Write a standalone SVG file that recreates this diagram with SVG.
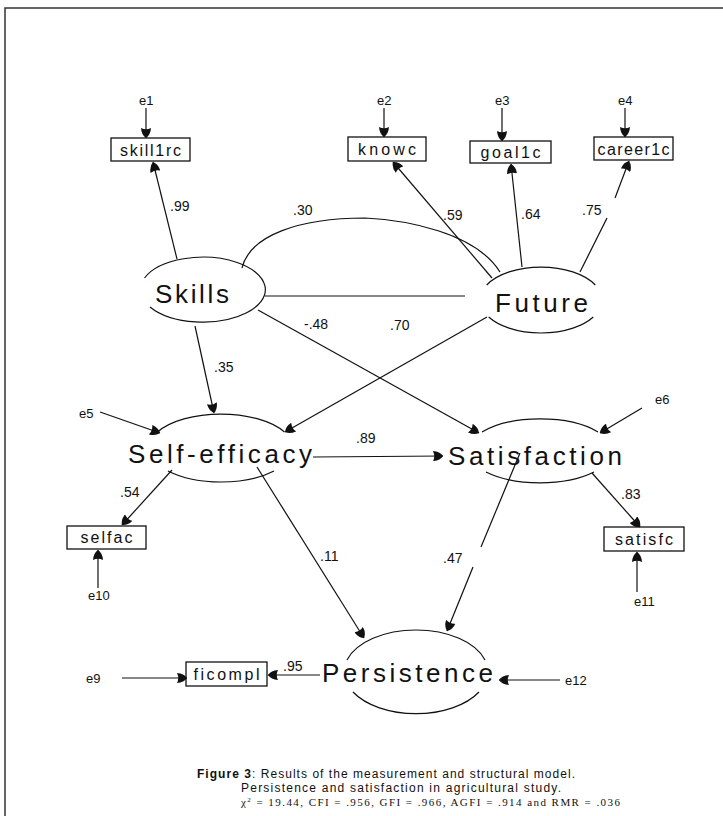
<svg xmlns="http://www.w3.org/2000/svg" width="723" height="816" viewBox="0 0 723 816">
  <defs>
    <marker id="ah" viewBox="0 0 10 10" refX="10" refY="5" markerWidth="10" markerHeight="10" markerUnits="userSpaceOnUse" orient="auto">
      <path d="M0,0 Q7,0.5 10,5 Q7,9.5 0,10 Q2.5,5 0,0z" fill="#111"/>
    </marker>
    <style>
      .frame { stroke: #333; stroke-width: 1.5; fill: none; }
      .box { fill: #fff; stroke: #111; stroke-width: 1.3; }
      .lat { fill: none; stroke: #111; stroke-width: 1.2; }
      .ln { fill: none; stroke: #111; stroke-width: 1.2; }
      .arr { fill: none; stroke: #111; stroke-width: 1.2; marker-end: url(#ah); }
      .t { font-family: "Liberation Sans", Arial, sans-serif; fill: #111; }
      .nm { font-size: 26px; }
      .bx { font-size: 16px; text-anchor: middle; }
      .cf { font-size: 14px; }
      .er { font-size: 13px; }
      .cap { font-size: 12px; }
      .capm { font-family: "Liberation Serif", "Times New Roman", serif; font-size: 11px; fill: #111; }
    </style>
  </defs>

  <rect width="723" height="816" fill="#fff"/>

  <!-- page frame -->
  <path class="frame" d="M5,816 L5,8 L723,8"/>

  <!-- latent variables -->
  <g id="skills">
    <path class="lat" d="M144.5,278 A62.5,32.5 0 1,1 150,307"/>
    <text class="t nm" x="155" y="303" font-size="28" textLength="74" lengthAdjust="spacing">Skills</text>
  </g>
  <g id="future">
    <path class="lat" d="M486.7,285 A61,33 0 0,1 595.3,285 M488.7,317 A61,33 0 0,0 593.3,317"/>
    <text class="t nm" x="495" y="312" textLength="93" lengthAdjust="spacing">Future</text>
  </g>
  <g id="self-efficacy">
    <path class="lat" d="M157.5,432 A72,34 0 0,1 284.5,432 M168,471 A72,34 0 0,0 274,471"/>
    <text class="t nm" x="128" y="463" textLength="184" lengthAdjust="spacing">Self-efficacy</text>
  </g>
  <g id="satisfaction">
    <path class="lat" d="M482,432 A72,32 0 0,1 598,432 M486,472 A72,32 0 0,0 594,472"/>
    <text class="t nm" x="448" y="465" textLength="174" lengthAdjust="spacing">Satisfaction</text>
  </g>
  <g id="persistence">
    <path class="lat" d="M347,660 A72,42 0 0,1 485,660 M353,692 A72,42 0 0,0 479,692"/>
    <text class="t nm" x="322" y="682" textLength="171" lengthAdjust="spacing">Persistence</text>
  </g>

  <!-- observed indicators -->
  <g id="skill1rc">
    <rect class="box" x="111" y="138" width="79" height="23"/>
    <text class="t bx" x="150.5" y="155.5" textLength="61" lengthAdjust="spacing">skill1rc</text>
  </g>
  <g id="knowc">
    <rect class="box" x="348" y="137" width="78" height="24"/>
    <text class="t bx" x="387" y="155" textLength="58" lengthAdjust="spacing">knowc</text>
  </g>
  <g id="goal1c">
    <rect class="box" x="470" y="141" width="81" height="22"/>
    <text class="t bx" x="510.5" y="158" textLength="60" lengthAdjust="spacing">goal1c</text>
  </g>
  <g id="career1c">
    <rect class="box" x="594" y="137" width="79" height="23"/>
    <text class="t bx" x="633.5" y="155" textLength="72" lengthAdjust="spacing">career1c</text>
  </g>
  <g id="selfac">
    <rect class="box" x="67" y="526" width="79" height="23"/>
    <text class="t bx" x="106.5" y="543" textLength="52" lengthAdjust="spacing">selfac</text>
  </g>
  <g id="satisfc">
    <rect class="box" x="604" y="527" width="80" height="24"/>
    <text class="t bx" x="644" y="545" textLength="58" lengthAdjust="spacing">satisfc</text>
  </g>
  <g id="ficompl">
    <rect class="box" x="186" y="662" width="81" height="24"/>
    <text class="t bx" x="226.5" y="680" textLength="66" lengthAdjust="spacing">ficompl</text>
  </g>

  <!-- error terms -->
  <g id="e1"><text class="t er" x="139" y="105">e1</text></g>
  <g id="e2"><text class="t er" x="377" y="105">e2</text></g>
  <g id="e3"><text class="t er" x="495" y="105">e3</text></g>
  <g id="e4"><text class="t er" x="618" y="105">e4</text></g>
  <g id="e5"><text class="t er" x="79" y="418">e5</text></g>
  <g id="e6"><text class="t er" x="655" y="404">e6</text></g>
  <g id="e9"><text class="t er" x="86" y="683">e9</text></g>
  <g id="e10"><text class="t er" x="88" y="600">e10</text></g>
  <g id="e11"><text class="t er" x="634" y="606">e11</text></g>
  <g id="e12"><text class="t er" x="565" y="685">e12</text></g>

  <!-- connectors -->
  <g id="connectors">
    <path class="arr" d="M146,108 L146,138"/>
    <path class="arr" d="M177,259 L153,162"/>
    <path class="arr" d="M384,108 L384,137"/>
    <path class="arr" d="M492,278 L393,162"/>
    <path class="arr" d="M502,108 L502,141"/>
    <path class="arr" d="M522,267 L511,164"/>
    <path class="arr" d="M625,108 L625,137"/>
    <path class="ln" d="M580,272 L607,218"/>
    <path class="arr" d="M615,198 L629,161"/>
    <!-- covariance and path between exogenous factors -->
    <path class="ln" d="M242,268 C250,235 300,218 365,218 C405,220 475,232 500,272"/>
    <path class="ln" d="M265,296 L465,296"/>
    <!-- structural paths -->
    <path class="arr" d="M195,326 L214,413"/>
    <path class="arr" d="M487,317 L285,432"/>
    <path class="arr" d="M258,310 L479,433"/>
    <path class="arr" d="M100,412 L160,433"/>
    <path class="arr" d="M642,408 L600,433"/>
    <path class="arr" d="M313,457 L443,456"/>
    <path class="arr" d="M172,470 L122,525"/>
    <path class="arr" d="M98,588 L98,550"/>
    <path class="arr" d="M592,473 L640,527"/>
    <path class="arr" d="M637,592 L637,552"/>
    <path class="arr" d="M257,467 L364,638"/>
    <path class="ln" d="M520,453 L481,547"/>
    <path class="arr" d="M473,567 L447,631"/>
    <path class="arr" d="M560,680 L499,680"/>
    <path class="arr" d="M320,675 L268,675"/>
    <path class="arr" d="M122,678 L187,678"/>
  </g>

  <!-- path coefficients -->
  <g id="coefficients">
    <text class="t cf" x="170" y="211">.99</text>
    <text class="t cf" x="293" y="215">.30</text>
    <text class="t cf" x="443" y="220">.59</text>
    <text class="t cf" x="521" y="219">.64</text>
    <text class="t cf" x="582" y="215">.75</text>
    <text class="t cf" x="304" y="329">-.48</text>
    <text class="t cf" x="390" y="330">.70</text>
    <text class="t cf" x="214" y="372">.35</text>
    <text class="t cf" x="356" y="443">.89</text>
    <text class="t cf" x="120" y="497">.54</text>
    <text class="t cf" x="621" y="499">.83</text>
    <text class="t cf" x="320" y="561">.11</text>
    <text class="t cf" x="443" y="563">.47</text>
    <text class="t cf" x="283" y="671">.95</text>
  </g>

  <!-- caption -->
  <g id="caption">
    <text class="t cap" x="197" y="778" textLength="378" lengthAdjust="spacing"><tspan font-weight="bold">Figure 3</tspan>: Results of the measurement and structural model.</text>
    <text class="t cap" x="241" y="792" textLength="320" lengthAdjust="spacing">Persistence and satisfaction in agricultural study.</text>
    <text class="capm" x="241" y="806" textLength="379" lengthAdjust="spacing">χ<tspan dy="-4" font-size="7">2</tspan><tspan dy="4"> = 19.44, CFI = .956, GFI = .966, AGFI = .914 and RMR = .036</tspan></text>
  </g>
</svg>
